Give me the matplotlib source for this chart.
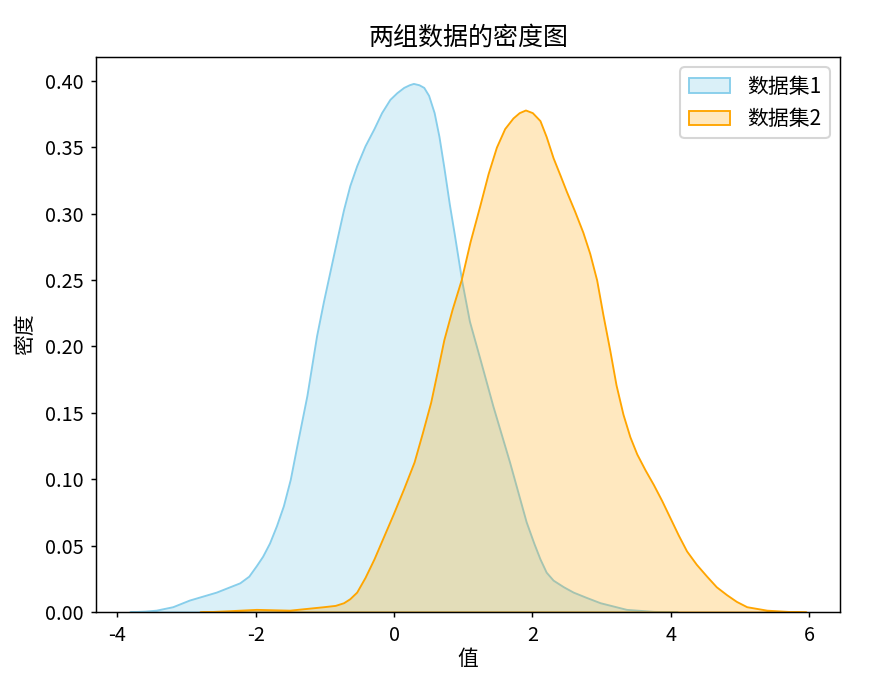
import matplotlib
matplotlib.use("Agg")
import matplotlib.pyplot as plt

plt.rcParams['font.family'] = ['Noto Sans CJK SC', 'DejaVu Sans']
plt.rcParams['axes.unicode_minus'] = False

# density curves
x1 = [-3.82, -3.60, -3.44, -3.20, -2.96, -2.57, -2.23, -2.10, -1.99, -1.90, -1.80, -1.70, -1.60,
      -1.50, -1.41, -1.26, -1.12, -1.02, -0.92, -0.82, -0.73, -0.64, -0.54, -0.42, -0.29, -0.18,
      -0.06, 0.04, 0.14, 0.22, 0.28, 0.36, 0.43, 0.50, 0.58, 0.65, 0.72, 0.80, 0.87, 0.98, 1.09,
      1.24, 1.43, 1.67, 1.91, 2.02, 2.11, 2.20, 2.30, 2.45, 2.59, 2.78, 2.98, 3.36, 3.75, 4.10]
d1 = [0.0002, 0.0007, 0.0014, 0.004, 0.009, 0.015, 0.022, 0.027, 0.035, 0.042, 0.052, 0.065, 0.080,
      0.100, 0.124, 0.163, 0.208, 0.234, 0.258, 0.282, 0.303, 0.321, 0.336, 0.351, 0.364, 0.376,
      0.386, 0.391, 0.395, 0.397, 0.398, 0.397, 0.395, 0.389, 0.376, 0.358, 0.335, 0.307, 0.285, 0.249, 0.219,
      0.191, 0.155, 0.113, 0.068, 0.052, 0.040, 0.030, 0.024, 0.019, 0.015, 0.011, 0.007, 0.002, 0.0005, 0.0001]

x2 = [-2.81, -2.38, -1.99, -1.51, -1.02, -0.85, -0.73, -0.64, -0.54, -0.42, -0.29, -0.15, -0.01, 0.14,
      0.29, 0.41, 0.53, 0.62, 0.72, 0.84, 0.97, 1.10, 1.24, 1.36, 1.48, 1.60, 1.72, 1.81, 1.90, 2.00,
      2.11, 2.20, 2.30, 2.40, 2.49, 2.61, 2.73, 2.83, 2.93, 3.02, 3.12, 3.21, 3.31, 3.41, 3.51, 3.63,
      3.75, 3.87, 3.99, 4.11, 4.23, 4.37, 4.52, 4.66, 4.81, 4.95, 5.10, 5.39, 5.78, 5.96]
d2 = [0.0, 0.001, 0.002, 0.0014, 0.004, 0.005, 0.007, 0.010, 0.015, 0.026, 0.040, 0.057, 0.074, 0.093,
      0.113, 0.135, 0.158, 0.180, 0.205, 0.228, 0.250, 0.279, 0.306, 0.330, 0.350, 0.364, 0.372, 0.376, 0.378, 0.376,
      0.370, 0.358, 0.342, 0.329, 0.317, 0.302, 0.286, 0.270, 0.250, 0.224, 0.197, 0.171, 0.149, 0.132, 0.119, 0.107,
      0.096, 0.084, 0.071, 0.058, 0.046, 0.036, 0.027, 0.019, 0.013, 0.008, 0.004, 0.0014, 0.0002, 0.0]

labels = ["数据集1", "数据集2"]
colors = ["skyblue", "orange"]
alphas = [0.3, 0.25]

fig = plt.figure(figsize=(5.9, 4.4867), dpi=150)
ax = fig.add_axes([0.1085, 0.0906, 0.9492 - 0.1085, 0.9153 - 0.0906])
for (xs, ds), lab, c, a in zip([(x1, d1), (x2, d2)], labels, colors, alphas):
    fc = matplotlib.colors.to_rgba(c, a)
    ax.fill_between(xs, ds, facecolor=fc, edgecolor=c, linewidth=0.9, label=lab)

ax.set_ylim(bottom=0)
ax.set_title("两组数据的密度图", fontsize=12)
ax.set_xlabel("值", labelpad=1)
ax.set_ylabel("密度")
ax.legend(loc="upper right")
for s in ax.spines.values():
    s.set_linewidth(0.7)
ax.tick_params(length=2.5, width=0.7, labelsize=9.5)
fig.savefig("out.png", dpi=150)
